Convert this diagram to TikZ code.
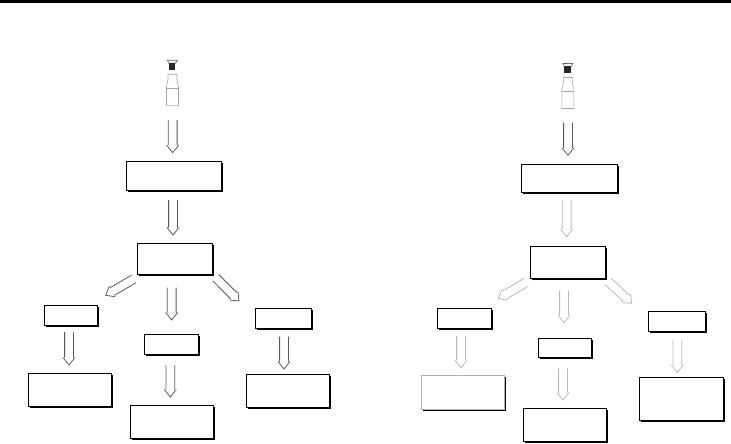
\documentclass[tikz,border=0pt]{standalone}
\usepackage{amsmath}
\usetikzlibrary{calc}
\usetikzlibrary{shadows}

\tikzset{
  flowbox/.style 2 args={draw=black,fill=white,line width=1pt,inner sep=0pt,outer sep=0pt,
    minimum width=#1 pt,minimum height=#2 pt,
    drop shadow={shadow xshift=1.6pt,shadow yshift=-1.6pt,fill=black,opacity=1}},
  hollow/.style={line width=0.8pt,to path={
    ($(\tikztostart)!4.4pt!90:(\tikztotarget)$) -- ($(\tikztotarget)!7.5pt!(\tikztostart)!4.4pt!-90:(\tikztostart)$)
    ($(\tikztostart)!4.4pt!-90:(\tikztotarget)$) -- ($(\tikztotarget)!7.5pt!(\tikztostart)!4.4pt!90:(\tikztostart)$)
    ($(\tikztotarget)!7.5pt!(\tikztostart)!6pt!-90:(\tikztostart)$) -- (\tikztotarget) -- ($(\tikztotarget)!7.5pt!(\tikztostart)!6pt!90:(\tikztostart)$)
  }},
  hollowdark/.style={hollow,draw=black!65},
  hollowlight/.style={hollow,draw=black!28},
  bottle/.pic={
    \draw[black!35,line width=0.6pt] (-4.5,-31) -- (4.5,-31) -- (4.5,-25) -- (6,-19) -- (6,0) -- (-6,0) -- (-6,-19) -- (-4.5,-25) -- cycle;
    \draw[black!35,line width=0.6pt] (-6,-17) -- (6,-17);
    \draw[black!60,line width=0.7pt] (-5,-45) -- (5,-45) -- (3,-42) -- (-3.5,-42) -- cycle;
    \fill[black!85] (-3.5,-42) rectangle (2.8,-35);
  }
}

\begin{document}
\begin{tikzpicture}[x=1pt,y=-1pt]
 \useasboundingbox (0,0) rectangle (731,444);
 \fill[black] (0,0) rectangle (731,3);

 % left flow
 \coordinate (lbottle) at (172.5,105.3);
 \pic at (lbottle) {bottle};
 \node[flowbox={95.7}{29}] (ltop) at (173.9,175.5) {};
 \node[flowbox={74.7}{31.4}] (lmid) at (174.7,259) {};
 \node[flowbox={53.4}{20.4}] (lsa) at (71,315.5) {};
 \node[flowbox={54.4}{20.4}] (lsb) at (171.5,344.5) {};
 \node[flowbox={56.4}{20.4}] (lsc) at (283.5,318.5) {};
 \node[flowbox={83.4}{33.4}] (lba) at (70,390) {};
 \node[flowbox={83.4}{33.4}] (lbb) at (172,422) {};
 \node[flowbox={83.4}{33.4}] (lbc) at (288,391) {};

 \draw[hollowdark] ([shift={(0.2,14.7)}]lbottle) to ([shift={(-1.2,-8.3)}]ltop.north);
 \draw[hollowdark] ([shift={(-0.9,10)}]ltop.south) to ([shift={(-1.7,-8.3)}]lmid.north);
 \draw[hollowdark] ([shift={(-3,13)}]lmid.south) to ([shift={(0.2,-14.3)}]lsb.north);
 \draw[hollowdark] ([shift={(-3.6,4.3)}]lmid.south west) to ([shift={(8,-10)}]lsa.north east);
 \draw[hollowdark] ([shift={(3.7,3)}]lmid.south east) to ([shift={(-16.3,-7.3)}]lsc.north west);
 \draw[hollowdark] ([shift={(-2,6.3)}]lsa.south) to ([shift={(-1,-8.3)}]lba.north);
 \draw[hollowdark] ([shift={(-1.2,10.3)}]lsb.south) to ([shift={(-1.7,-8.3)}]lbb.north);
 \draw[hollowdark] ([shift={(0.5,8)}]lsc.south) to ([shift={(-4,-5.3)}]lbc.north);

 % right flow
 \coordinate (rbottle) at (567.9,108.5);
 \pic at (rbottle) {bottle};
 \node[flowbox={96.4}{28.4}] (rtop) at (569.5,178.5) {};
 \node[flowbox={74.7}{32}] (rmid) at (567.7,262.3) {};
 \node[flowbox={53.7}{20.4}] (rsa) at (464.2,318.5) {};
 \node[flowbox={53.4}{19.4}] (rsb) at (565,348) {};
 \node[flowbox={56.7}{20.4}] (rsc) at (676.7,321.5) {};
 \node[flowbox={83}{34},draw=black!30] (rba) at (462.8,392.7) {};
 \node[flowbox={83.4}{33.4}] (rbb) at (565,425) {};
 \node[flowbox={84.4}{42.7}] (rbc) at (681.5,398.7) {};

 \draw[hollowdark] ([shift={(0.1,14.2)}]rbottle) to ([shift={(-1.5,-9)}]rtop.north);
 \draw[hollowlight] ([shift={(-2.8,7.3)}]rtop.south) to ([shift={(-1,-9.6)}]rmid.north);
 \draw[hollowlight] ([shift={(-3.7,12.4)}]rmid.south) to ([shift={(-1,-15.6)}]rsb.north);
 \draw[hollowlight] ([shift={(-4.3,4)}]rmid.south west) to ([shift={(7.3,-9.6)}]rsa.north east);
 \draw[hollowlight] ([shift={(3.3,3.4)}]rmid.south east) to ([shift={(-16.6,-8)}]rsc.north west);
 \draw[hollowlight] ([shift={(-3.2,7.3)}]rsa.south) to ([shift={(-1.8,-8)}]rba.north);
 \draw[hollowlight] ([shift={(-2,10.6)}]rsb.south) to ([shift={(-2,-8.3)}]rbb.north);
 \draw[hollowlight] ([shift={(0.6,8.3)}]rsc.south) to ([shift={(-4.2,-5)}]rbc.north);
\end{tikzpicture}
\end{document}
